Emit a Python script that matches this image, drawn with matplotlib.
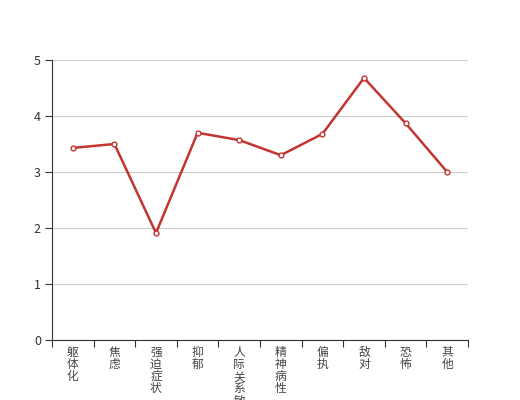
import matplotlib
matplotlib.use("Agg")
import matplotlib.pyplot as plt

plt.rcParams["font.family"] = ["Noto Sans CJK SC", "DejaVu Sans"]

# Data
categories = ["躯体化", "焦虑", "强迫症状", "抑郁", "人际关系敏感", "精神病性", "偏执", "敌对", "恐怖", "其他"]
scores = [3.43, 3.50, 1.91, 3.70, 3.57, 3.30, 3.68, 4.68, 3.87, 3.00]
y_ticks = [0, 1, 2, 3, 4, 5]

color = "#c23531"
axis_color = "#333333"

fig = plt.figure(figsize=(5.2, 4.0), dpi=100)
ax = fig.add_axes([0.1, 0.15, 0.8, 0.70])

x = list(range(len(categories)))
ax.plot(x, scores, color=color, linewidth=1.8, marker="o", markersize=3.5,
        markerfacecolor="white", markeredgecolor=color, markeredgewidth=1, zorder=3)

ax.set_xlim(-0.5, len(categories) - 0.5)
ax.set_ylim(0, 5)
ax.set_yticks(y_ticks)
ax.yaxis.grid(True, color="#cccccc", linewidth=0.8)
ax.set_axisbelow(True)

# category ticks at boundaries, labels centred and stacked vertically
ax.set_xticks([i - 0.5 for i in range(len(categories) + 1)])
ax.set_xticklabels([])
ax.set_xticks(x, minor=True)
ax.set_xticklabels(["\n".join(c) for c in categories], minor=True, va="top", linespacing=0.93)
ax.tick_params(axis="x", which="minor", length=0, pad=4, labelsize=8.5, labelcolor="#444444")
ax.tick_params(axis="x", which="major", length=5, color=axis_color, direction="out")
ax.tick_params(axis="y", length=5, color=axis_color, labelsize=9, labelcolor=axis_color, pad=3)

for side in ["top", "right"]:
    ax.spines[side].set_visible(False)
ax.spines["left"].set_color(axis_color)
ax.spines["bottom"].set_color(axis_color)

fig.savefig("out.png", dpi=100)
